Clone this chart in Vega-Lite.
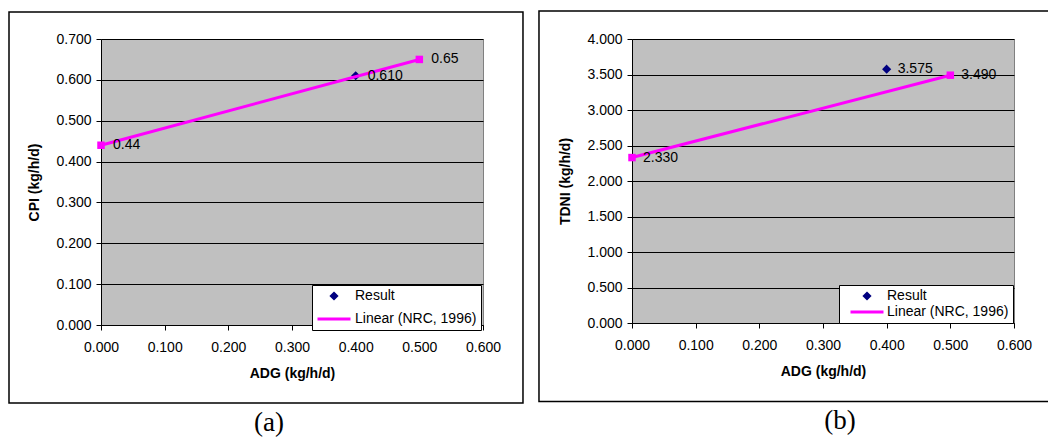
{
  "$schema": "https://vega.github.io/schema/vega-lite/v6.json",
  "background": "white",
  "padding": {"left": 7, "top": 9, "right": 0, "bottom": 0},
  "spacing": 12,
  "datasets": {
    "cpi": [
      {"series": "Linear (NRC, 1996)", "adg": 0, "v": 0.44, "label": "0.44"},
      {"series": "Linear (NRC, 1996)", "adg": 0.5, "v": 0.65, "label": "0.65"},
      {"series": "Result", "adg": 0.4, "v": 0.61, "label": "0.610"}
    ],
    "tdni": [
      {"series": "Linear (NRC, 1996)", "adg": 0, "v": 2.33, "label": "2.330"},
      {"series": "Linear (NRC, 1996)", "adg": 0.5, "v": 3.49, "label": "3.490"},
      {"series": "Result", "adg": 0.4, "v": 3.575, "label": "3.575"}
    ]
  },
  "resolve": {"scale": {"color": "independent", "shape": "independent", "stroke": "independent"}, "legend": {"color": "independent", "shape": "independent", "stroke": "independent"}},
  "hconcat": [
    {
      "width": 382,
      "height": 286,
      "title": {"text": "(a)", "dx": -23, "frame": "group"},
      "data": {"name": "cpi"},
      "layer": [
        {
          "data": {"values": [{}]},
          "mark": {"type": "rect", "filled": false, "stroke": "black", "strokeWidth": 1.5},
          "encoding": {
            "x": {"datum": -0.1445, "type": "quantitative", "title": "ADG (kg/h/d)", "axis": {"values": [0, 0.1, 0.2, 0.3, 0.4, 0.5, 0.6], "format": ".3f"}},
            "x2": {"datum": 0.6628},
            "y": {"datum": 0.7661, "type": "quantitative", "title": "CPI (kg/h/d)", "axis": {"values": [0, 0.1, 0.2, 0.3, 0.4, 0.5, 0.6, 0.7], "format": ".3f"}},
            "y2": {"datum": -0.1909}
          }
        },
        {
          "transform": [{"filter": "datum.series === 'Result'"}],
          "mark": {"type": "point", "filled": true, "size": 121, "strokeWidth": 3, "opacity": 1},
          "encoding": {
            "x": {"field": "adg", "type": "quantitative", "title": "ADG (kg/h/d)", "scale": {"domain": [0, 0.6]}, "axis": {"values": [0, 0.1, 0.2, 0.3, 0.4, 0.5, 0.6], "format": ".3f"}},
            "y": {"field": "v", "type": "quantitative", "title": "CPI (kg/h/d)", "scale": {"domain": [0, 0.7]}, "axis": {"values": [0, 0.1, 0.2, 0.3, 0.4, 0.5, 0.6, 0.7], "format": ".3f"}},
            "color": {
              "field": "series", "type": "nominal",
              "scale": {"domain": ["Result", "Linear (NRC, 1996)"], "range": ["#000080", "#FF00FF"]},
              "legend": {"orient": "none", "legendX": 211, "legendY": 246, "title": null, "padding": 4, "rowPadding": 7, "symbolSize": 121, "symbolStrokeWidth": 3, "symbolOffset": 11, "labelOffset": 14}
            },
            "stroke": {
              "field": "series", "type": "nominal",
              "scale": {"domain": ["Result", "Linear (NRC, 1996)"], "range": ["#000080", "#FF00FF"]},
              "legend": {"orient": "none", "legendX": 211, "legendY": 246, "title": null, "padding": 4, "rowPadding": 7, "symbolSize": 121, "symbolStrokeWidth": 3, "symbolOffset": 11, "labelOffset": 14}
            },
            "shape": {
              "field": "series", "type": "nominal",
              "scale": {"domain": ["Result", "Linear (NRC, 1996)"], "range": ["M0,-0.45L0.45,0L0,0.45L-0.45,0Z", "M-3,0H3"]},
              "legend": {"orient": "none", "legendX": 211, "legendY": 246, "title": null, "padding": 4, "rowPadding": 7, "symbolSize": 121, "symbolStrokeWidth": 3, "symbolOffset": 11, "labelOffset": 14}
            }
          }
        },
        {
          "transform": [{"filter": "datum.series !== 'Result'"}],
          "mark": {"type": "line", "color": "#FF00FF", "strokeWidth": 3, "point": {"shape": "square", "filled": true, "size": 56, "opacity": 1, "color": "#FF00FF"}},
          "encoding": {
            "x": {"field": "adg", "type": "quantitative", "title": "ADG (kg/h/d)", "scale": {"domain": [0, 0.6]}, "axis": {"values": [0, 0.1, 0.2, 0.3, 0.4, 0.5, 0.6], "format": ".3f"}},
            "y": {"field": "v", "type": "quantitative", "title": "CPI (kg/h/d)", "scale": {"domain": [0, 0.7]}, "axis": {"values": [0, 0.1, 0.2, 0.3, 0.4, 0.5, 0.6, 0.7], "format": ".3f"}}
          }
        },
        {
          "mark": {"type": "text", "align": "left", "baseline": "middle", "dx": 12, "fontSize": 14, "color": "black"},
          "encoding": {
            "x": {"field": "adg", "type": "quantitative", "title": "ADG (kg/h/d)", "scale": {"domain": [0, 0.6]}, "axis": {"values": [0, 0.1, 0.2, 0.3, 0.4, 0.5, 0.6], "format": ".3f"}},
            "y": {"field": "v", "type": "quantitative", "title": "CPI (kg/h/d)", "scale": {"domain": [0, 0.7]}, "axis": {"values": [0, 0.1, 0.2, 0.3, 0.4, 0.5, 0.6, 0.7], "format": ".3f"}},
            "text": {"field": "label"}
          }
        }
      ]
    },
    {
      "width": 382,
      "height": 284,
      "title": {"text": "(b)", "dx": 17, "frame": "group"},
      "data": {"name": "tdni"},
      "layer": [
        {
          "data": {"values": [{}]},
          "mark": {"type": "rect", "filled": false, "stroke": "black", "strokeWidth": 1.5},
          "encoding": {
            "x": {"datum": -0.1461, "type": "quantitative", "title": "ADG (kg/h/d)", "axis": {"values": [0, 0.1, 0.2, 0.3, 0.4, 0.5, 0.6], "format": ".3f"}},
            "x2": {"datum": 0.6613},
            "y": {"datum": 4.394, "type": "quantitative", "title": "TDNI (kg/h/d)", "axis": {"values": [0, 0.5, 1, 1.5, 2, 2.5, 3, 3.5, 4], "format": ".3f"}},
            "y2": {"datum": -1.106}
          }
        },
        {
          "transform": [{"filter": "datum.series === 'Result'"}],
          "mark": {"type": "point", "filled": true, "size": 121, "strokeWidth": 3, "opacity": 1},
          "encoding": {
            "x": {"field": "adg", "type": "quantitative", "title": "ADG (kg/h/d)", "scale": {"domain": [0, 0.6]}, "axis": {"values": [0, 0.1, 0.2, 0.3, 0.4, 0.5, 0.6], "format": ".3f"}},
            "y": {"field": "v", "type": "quantitative", "title": "TDNI (kg/h/d)", "scale": {"domain": [0, 4]}, "axis": {"values": [0, 0.5, 1, 1.5, 2, 2.5, 3, 3.5, 4], "format": ".3f"}},
            "color": {
              "field": "series", "type": "nominal",
              "scale": {"domain": ["Result", "Linear (NRC, 1996)"], "range": ["#000080", "#FF00FF"]},
              "legend": {"orient": "none", "legendX": 207, "legendY": 246, "title": null, "padding": 4, "rowPadding": -4, "symbolSize": 121, "symbolStrokeWidth": 3, "symbolOffset": 17, "labelOffset": 13}
            },
            "stroke": {
              "field": "series", "type": "nominal",
              "scale": {"domain": ["Result", "Linear (NRC, 1996)"], "range": ["#000080", "#FF00FF"]},
              "legend": {"orient": "none", "legendX": 207, "legendY": 246, "title": null, "padding": 4, "rowPadding": -4, "symbolSize": 121, "symbolStrokeWidth": 3, "symbolOffset": 17, "labelOffset": 13}
            },
            "shape": {
              "field": "series", "type": "nominal",
              "scale": {"domain": ["Result", "Linear (NRC, 1996)"], "range": ["M0,-0.45L0.45,0L0,0.45L-0.45,0Z", "M-3,0H3"]},
              "legend": {"orient": "none", "legendX": 207, "legendY": 246, "title": null, "padding": 4, "rowPadding": -4, "symbolSize": 121, "symbolStrokeWidth": 3, "symbolOffset": 17, "labelOffset": 13}
            }
          }
        },
        {
          "transform": [{"filter": "datum.series !== 'Result'"}],
          "mark": {"type": "line", "color": "#FF00FF", "strokeWidth": 3, "point": {"shape": "square", "filled": true, "size": 56, "opacity": 1, "color": "#FF00FF"}},
          "encoding": {
            "x": {"field": "adg", "type": "quantitative", "title": "ADG (kg/h/d)", "scale": {"domain": [0, 0.6]}, "axis": {"values": [0, 0.1, 0.2, 0.3, 0.4, 0.5, 0.6], "format": ".3f"}},
            "y": {"field": "v", "type": "quantitative", "title": "TDNI (kg/h/d)", "scale": {"domain": [0, 4]}, "axis": {"values": [0, 0.5, 1, 1.5, 2, 2.5, 3, 3.5, 4], "format": ".3f"}}
          }
        },
        {
          "mark": {"type": "text", "align": "left", "baseline": "middle", "dx": 11, "fontSize": 14, "color": "black"},
          "encoding": {
            "x": {"field": "adg", "type": "quantitative", "title": "ADG (kg/h/d)", "scale": {"domain": [0, 0.6]}, "axis": {"values": [0, 0.1, 0.2, 0.3, 0.4, 0.5, 0.6], "format": ".3f"}},
            "y": {"field": "v", "type": "quantitative", "title": "TDNI (kg/h/d)", "scale": {"domain": [0, 4]}, "axis": {"values": [0, 0.5, 1, 1.5, 2, 2.5, 3, 3.5, 4], "format": ".3f"}},
            "text": {"field": "label"}
          }
        }
      ]
    }
  ],
  "config": {
    "font": "Liberation Sans",
    "view": {"fill": "#C0C0C0", "stroke": "#808080", "strokeWidth": 1},
    "axis": {
      "labelFont": "Liberation Sans", "labelFontSize": 14, "labelColor": "black",
      "titleFont": "Liberation Sans", "titleFontSize": 14, "titleFontWeight": "bold", "titleColor": "black",
      "domainColor": "black", "tickColor": "black", "tickSize": 5,
      "gridColor": "black", "gridOpacity": 1,
      "labelFlush": false, "labelOverlap": false
    },
    "axisX": {"grid": false, "labelPadding": 10, "titlePadding": 12},
    "axisY": {"grid": true, "labelPadding": 5, "titlePadding": 14},
    "legend": {
      "strokeColor": "black", "fillColor": "white",
      "labelFont": "Liberation Sans", "labelFontSize": 14, "labelColor": "black", "labelLimit": 300
    },
    "title": {"font": "Liberation Serif", "fontSize": 27, "fontWeight": "normal", "color": "black", "orient": "bottom", "baseline": "alphabetic", "offset": 6}
  }
}
